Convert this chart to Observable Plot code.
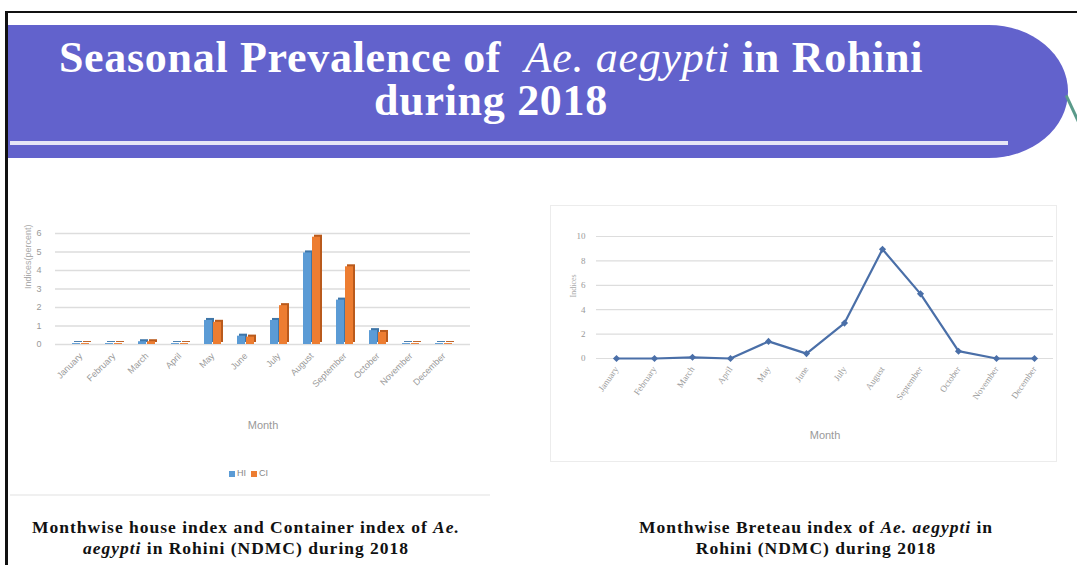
<!DOCTYPE html>
<html><head><meta charset="utf-8">
<script src="https://cdn.jsdelivr.net/npm/d3@7"></script>
<script src="https://cdn.jsdelivr.net/npm/@observablehq/plot@0.6"></script>
<style>
body{margin:0;background:#fff;}
#page{position:relative;width:1077px;height:565px;overflow:hidden;background:#fff;font-family:"Liberation Serif","DejaVu Serif",serif;}
#topline{position:absolute;left:5px;top:11px;width:1072px;height:2px;background:#111;}
#leftline{position:absolute;left:5px;top:11px;width:3px;height:560px;background:#111;}
#banner{position:absolute;left:8px;top:25px;width:1060px;height:133px;background:#6262cc;border-radius:0 80px 80px 0 / 0 67px 67px 0;}
#bannerline{position:absolute;left:10px;top:141px;width:998px;height:4px;background:#e6e6f6;}
#green{position:absolute;left:1071px;top:94px;width:3px;height:30px;background:#5a9a8a;transform:rotate(-25deg);}
.title{position:absolute;color:#fff;font-weight:bold;font-size:44px;white-space:nowrap;text-align:center;width:960px;left:11px;letter-spacing:0.7px;line-height:46px;}
.cap{position:absolute;font-weight:bold;font-size:17.5px;text-align:center;color:#111;line-height:21px;letter-spacing:1px;white-space:nowrap;}
#left{position:absolute;left:0;top:220px;}
#right{position:absolute;left:550px;top:205px;border:1px solid #ececec;}
#divider{position:absolute;left:10px;top:494px;width:480px;height:2px;background:#f0f0f0;}
#legend{position:absolute;left:229px;top:468px;font-family:"Liberation Sans",sans-serif;font-size:9px;color:#888;}
#legend span.sw{display:inline-block;width:6px;height:6px;margin-right:2px;vertical-align:middle;}
</style></head>
<body><div id="page">
<div id="topline"></div><div id="leftline"></div>
<div id="banner"></div><div id="bannerline"></div><div id="green"></div>
<div class="title" style="top:35px;">Seasonal Prevalence of&nbsp; <i style="font-weight:normal">Ae. aegypti</i> in Rohini</div>
<div class="title" style="top:78px;">during 2018</div>
<div id="left"></div>
<div id="legend"><span class="sw" style="background:#5b9bd5"></span>HI&nbsp;&nbsp;<span class="sw" style="background:#ed7d31"></span>CI</div>
<div id="divider"></div>
<div id="right"></div>
<div class="cap" style="left:6px;top:517px;width:480px;">Monthwise house index and Container index of <i>Ae.<br>aegypti</i> in Rohini (NDMC) during 2018</div>
<div class="cap" style="left:586px;top:517px;width:460px;">Monthwise Breteau index of <i>Ae. aegypti</i> in<br>Rohini (NDMC) during 2018</div>
</div>
<script>
const months = ["January","February","March","April","May","June","July","August","September","October","November","December"];
const seriesNames = ["HI","CI"];
const hiValues = [0.05,0.05,0.15,0.05,1.3,0.45,1.3,4.95,2.4,0.75,0.05,0.05];
const ciValues = [0.05,0.05,0.15,0.05,1.2,0.4,2.1,5.8,4.2,0.65,0.05,0.05];
const biValues = [0,0,0.1,0,1.4,0.4,2.9,8.95,5.3,0.6,0,0];
const leftTicks = [0,1,2,3,4,5,6];
const rightTicks = [0,2,4,6,8,10];
const seriesColors = ["#5b9bd5","#ed7d31"];
const shadowColors = ["#3f76a8","#b95a1c"];

const hiData = months.map((m,i)=>({month:m, series:seriesNames[0], value:hiValues[i]}));
const ciData = months.map((m,i)=>({month:m, series:seriesNames[1], value:ciValues[i]}));

const left = Plot.plot({
  width: 490, height: 230,
  marginLeft: 55, marginRight: 20, marginTop: 13, marginBottom: 106,
  style: {fontFamily: "Liberation Sans, sans-serif", fontSize: "9px", color: "#999", background: "transparent"},
  x: {type: "band", domain: months, padding: 0.47, label: null},
  y: {domain: [0,6], ticks: leftTicks, label: null},
  marks: [
    Plot.gridY(leftTicks, {stroke: "#ddd", strokeOpacity: 1, strokeWidth: 1.5}),
    Plot.axisY(leftTicks, {tickSize: 0, tickPadding: 14, fontSize: 9, fill: "#999", label: null}),
    Plot.text(["Indices(percent)"], {frameAnchor: "left", dx: -27, rotate: -90, fill: "#aaa", fontSize: 9}),
    Plot.axisX({tickSize: 0, tickRotate: -45, textAnchor: "end", fontSize: 9, fill: "#999", label: null, tickPadding: 10}),
    Plot.barY(hiData, {x: "month", y: "value", fill: shadowColors[0], insetRight: 9, dx: 2, dy: -2}),
    Plot.barY(hiData, {x: "month", y: "value", fill: seriesColors[0], insetRight: 9}),
    Plot.barY(ciData, {x: "month", y: "value", fill: shadowColors[1], insetLeft: 9, dx: 2, dy: -2}),
    Plot.barY(ciData, {x: "month", y: "value", fill: seriesColors[1], insetLeft: 9}),
    Plot.text(["Month"], {frameAnchor: "bottom", dy: 84, fill: "#999", fontSize: 11})
  ]
});
document.getElementById("left").appendChild(left);

const lineData = months.map((m,i)=>({month:m, value:biValues[i]}));
const right = Plot.plot({
  width: 505, height: 255,
  marginLeft: 45, marginRight: 3, marginTop: 30, marginBottom: 103,
  style: {fontFamily: "Liberation Serif, serif", fontSize: "9px", color: "#999", background: "transparent"},
  x: {type: "point", domain: months, padding: 0.5, label: null},
  y: {domain: [0,10], ticks: rightTicks, label: null},
  marks: [
    Plot.gridY(rightTicks, {stroke: "#ddd", strokeOpacity: 1, strokeWidth: 1.2}),
    Plot.axisY(rightTicks, {tickSize: 0, tickPadding: 11, fill: "#999", label: null}),
    Plot.axisX({tickSize: 0, tickRotate: -55, textAnchor: "end", fill: "#999", label: null, tickPadding: 9}),
    Plot.text(["Indices"], {frameAnchor: "left", dx: -23, rotate: -90, fill: "#aaa", fontSize: 8}),
    Plot.line(lineData, {x: "month", y: "value", stroke: "#4a6fa8", strokeWidth: 2.2}),
    Plot.dot(lineData, {x: "month", y: "value", fill: "#4a6fa8", r: 3.2, symbol: "diamond2"}),
    Plot.text(["Month"], {frameAnchor: "bottom", dy: 80, fill: "#999", fontSize: 11, fontFamily: "Liberation Sans, sans-serif"})
  ]
});
document.getElementById("right").appendChild(right);
</script>
</body></html>
